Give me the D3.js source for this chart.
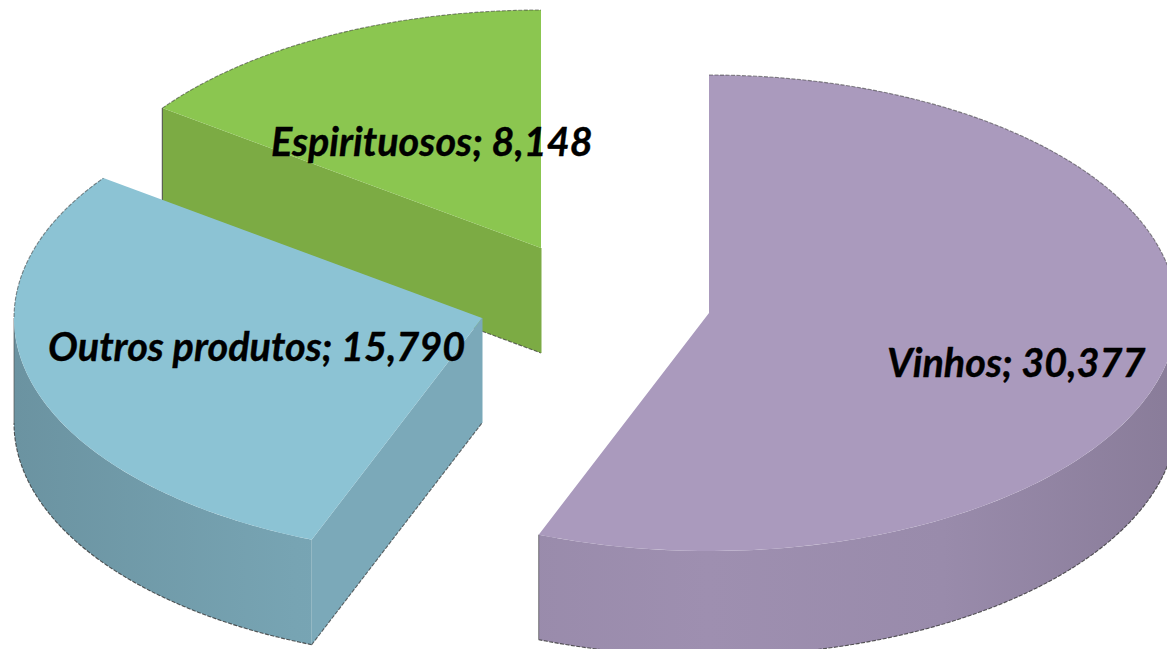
<!DOCTYPE html>
<html><head><meta charset="utf-8">
<script src="https://cdn.jsdelivr.net/npm/d3@7/dist/d3.min.js"></script>
<style>html,body{margin:0;padding:0;background:#fff;overflow:hidden}svg{display:block}</style>
</head><body><svg id="c" width="1167" height="649"></svg>
<script>
const categories = ["Vinhos","Outros produtos","Espirituosos"];
const values = [30.377,15.790,8.148];
const valueLabels = ["30,377","15,790","8,148"];
const topColors = ["#aa9abd","#8cc3d4","#8bc650"];
const sideColors = ["#9e8fb0","#7ba9b9","#7cab44"];
const apexX = [709,482,541];
const apexY = [313,318,248];
const labelX = [887,48,271];
const labelY = [377,361,156];
const drawOrder = [2,0,1];
const rx=468, ry=238, depth=105;

const svg=d3.select("#c");
const defs=svg.append("defs");
const arcs=d3.pie().sort(null).startAngle(0).endAngle(2*Math.PI)(values);
const px=(i,a)=>apexX[i]+rx*Math.sin(a);
const py=(i,a)=>apexY[i]-ry*Math.cos(a);
const line=d3.line();
const shadeStops=[[0,0.87],[0.3,0.97],[0.5,1],[0.75,0.97],[1,0.87]];
const edge=(g,pts,op)=>g.append("path").attr("d",line(pts)).attr("fill","none").attr("stroke","#333")
  .attr("stroke-width",1.1).attr("stroke-dasharray","4 1.5").attr("opacity",op);

drawOrder.forEach(i=>{
  const {startAngle:s,endAngle:e}=arcs[i];
  const g=svg.append("g");
  const steps=d3.range(0,121).map(k=>s+(e-s)*k/120);
  const rim=steps.map(a=>[px(i,a),py(i,a)]);
  const w0=Math.max(s,Math.PI/2), w1=Math.min(e,3*Math.PI/2);
  if(w1>w0){
    const id="wall"+i, base=d3.rgb(sideColors[i]);
    const grad=defs.append("linearGradient").attr("id",id).attr("gradientUnits","userSpaceOnUse")
      .attr("x1",apexX[i]-rx).attr("x2",apexX[i]+rx).attr("y1",0).attr("y2",0);
    shadeStops.forEach(([o,f])=>grad.append("stop").attr("offset",o).attr("stop-color",d3.rgb(base.r*f,base.g*f,base.b*f)));
    const as=d3.range(0,121).map(k=>w0+(w1-w0)*k/120);
    const upper=as.map(a=>[px(i,a),py(i,a)]);
    const lower=as.map(a=>[px(i,a),py(i,a)+depth]);
    g.append("path").attr("d",line([...upper,...lower.slice().reverse()])+"Z").attr("fill",`url(#${id})`);
    edge(g,lower,.8);
    // silhouette edges of the wall
    [w0,w1].forEach(a=>{
      if(a===Math.PI*1.5||a===e){
        g.append("line").attr("x1",px(i,a)).attr("x2",px(i,a)).attr("y1",py(i,a)).attr("y2",py(i,a)+depth)
          .attr("stroke","#555").attr("stroke-width",1).attr("opacity",.7);
      }
    });
  }
  // a slice's first cut face looks at the viewer when the angle is on the left half
  if(Math.sin(s)<-1e-6){
    g.append("path").attr("d",line([[apexX[i],apexY[i]],[px(i,s),py(i,s)],[px(i,s),py(i,s)+depth],[apexX[i],apexY[i]+depth]])+"Z")
      .attr("fill",sideColors[i]);
    edge(g,[[px(i,s),py(i,s)+depth],[apexX[i],apexY[i]+depth]],.7);
    g.append("line").attr("x1",apexX[i]).attr("x2",apexX[i]).attr("y1",apexY[i]).attr("y2",apexY[i]+depth)
      .attr("stroke",sideColors[i]).attr("stroke-width",1);
    if(Math.cos(s)>0) g.append("line").attr("x1",px(i,s)).attr("x2",px(i,s)).attr("y1",py(i,s)).attr("y2",py(i,s)+depth)
      .attr("stroke","#444").attr("stroke-width",1.2).attr("opacity",.8);
  }
  g.append("path").attr("d",line([[apexX[i],apexY[i]],...rim])+"Z").attr("fill",topColors[i]);
  edge(g,steps.filter(a=>Math.cos(a)>0).map(a=>[px(i,a),py(i,a)]),.55);
});

svg.append("g").selectAll("text").data(categories).join("text")
  .attr("x",(d,i)=>labelX[i]).attr("y",(d,i)=>labelY[i])
  .attr("font-family","Lato, 'Open Sans', sans-serif").attr("font-weight",700).attr("font-style","italic")
  .attr("font-size",39.6).attr("fill","#000").attr("stroke","#000").attr("stroke-width",.35)
  .text((d,i)=>`${d}; ${valueLabels[i]}`);
</script></body></html>
